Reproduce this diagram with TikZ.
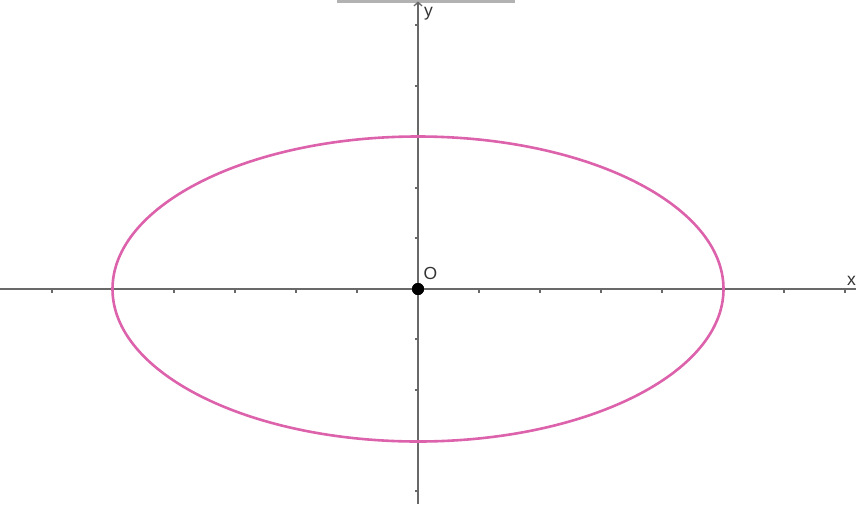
\documentclass[tikz,border=0pt]{standalone}
\usepackage{fontspec}
\setmainfont{Liberation Sans}
\usetikzlibrary{arrows.meta}
\definecolor{axisgray}{RGB}{105,105,105}
\definecolor{ellpink}{RGB}{221,98,172}
\begin{document}
\begin{tikzpicture}[x=1pt,y=-1pt,
  axisline/.style={draw=axisgray,line width=1.3pt},
  tickline/.style={draw=axisgray,line width=1.2pt},
  curve/.style={draw=ellpink,line width=2.6pt},
  lbl/.style={inner sep=0pt,text=black!80,font=\fontsize{17.5}{20}\selectfont},
  dot/.style={circle,fill=black,inner sep=0pt,minimum size=12pt}]
\useasboundingbox (0,0) rectangle (856,504);
\fill[white] (0,0) rectangle (856,504);
% cut-off strip at the top
\fill[gray!60] (337,0) rectangle (515,2.5);
% axis end points
\coordinate (xl) at (0,289);
\coordinate (xr) at (856,289);
\coordinate (yb) at (418,504);
\coordinate (yt) at (418,1.5);
\node[dot] (O) at (418,289) {};
\draw[axisline] (xl) -- (xr);
\draw[axisline,-{Straight Barb[length=3.5pt,width=8pt]}] (yb) -- (yt);
% ticks
\foreach \t in {52,113,174,235,296,357,479,540,601,662,723,784,845}
  \draw[tickline] (\t,289) -- (\t,292.5);
\foreach \t in {25,86,137,188,238,339,390,441,491}
  \draw[tickline] (418,\t) -- (414.5,\t);
% ellipse
\draw[curve] (O) ellipse [x radius=305.5pt, y radius=152.5pt];
\node[dot] at (O) {};
% labels
\node[lbl] (ylab) at (428.5,13.5) {y};
\node[lbl] (xlab) at (851.5,281) {x};
\node[lbl] (olab) at (430.5,273.5) {O};
\end{tikzpicture}
\end{document}
